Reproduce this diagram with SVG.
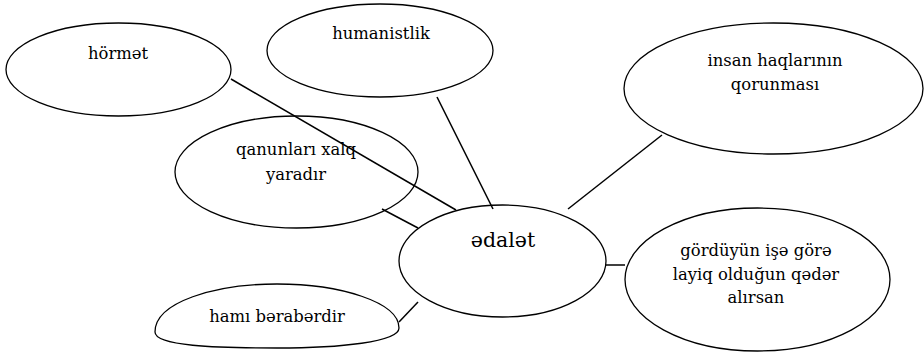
<svg xmlns="http://www.w3.org/2000/svg" width="924" height="354" viewBox="0 0 924 354">
<style>
.n{fill:#fff;stroke:#000;stroke-width:1.3}
.t{font-family:'DejaVu Serif',serif;font-size:16.4px;fill:#000;text-anchor:middle}
.c{stroke:#000;stroke-width:1.5;fill:none}
</style>
<rect width="924" height="354" fill="#fff"/>
<g id="n-hormet"><ellipse class="n" cx="118.5" cy="69.5" rx="112.5" ry="46.5"/><text class="t" x="118" y="59">hörmət</text></g>
<g id="n-humanistlik"><ellipse class="n" cx="380" cy="50.5" rx="113" ry="46.5"/><text class="t" x="381" y="39">humanistlik</text></g>
<g id="n-insan"><ellipse class="n" cx="773.5" cy="88.5" rx="149.5" ry="65.5"/><text class="t" x="775" y="66">insan haqlarının</text><text class="t" x="775" y="90">qorunması</text></g>
<g id="n-qanunlari"><ellipse class="n" cx="296.5" cy="172" rx="121.5" ry="56"/><text class="t" x="296" y="155">qanunları xalq</text><text class="t" x="296" y="180">yaradır</text></g>
<g id="n-hami"><path class="n" d="M155,332 C155,302 215,284 277,284 C340,284 399,302 399,328 C399,342 340,348 277,348 C215,348 155,346 155,332 Z"/><text class="t" x="277" y="322">hamı bərabərdir</text></g>
<g id="n-gorduyun"><ellipse class="n" cx="757.5" cy="279.5" rx="132.5" ry="71.5"/><text class="t" x="756" y="256">gördüyün işə görə</text><text class="t" x="756" y="280">layiq olduğun qədər</text><text class="t" x="756" y="303">alırsan</text></g>
<g id="connectors">
<line class="c" x1="231" y1="79" x2="456" y2="210"/>
<line class="c" x1="437" y1="97" x2="493" y2="209"/>
<line class="c" x1="662" y1="135" x2="568" y2="209"/>
<line class="c" x1="382" y1="209" x2="418" y2="228"/>
<line class="c" x1="399" y1="322" x2="418" y2="302"/>
<line class="c" x1="606" y1="265" x2="625" y2="265"/>
</g>
<g id="n-edalet"><ellipse class="n" cx="502.5" cy="261" rx="103.5" ry="56" style="fill:none"/><text class="t" x="503" y="247" style="font-size:20.5px">ədalət</text></g>
</svg>
